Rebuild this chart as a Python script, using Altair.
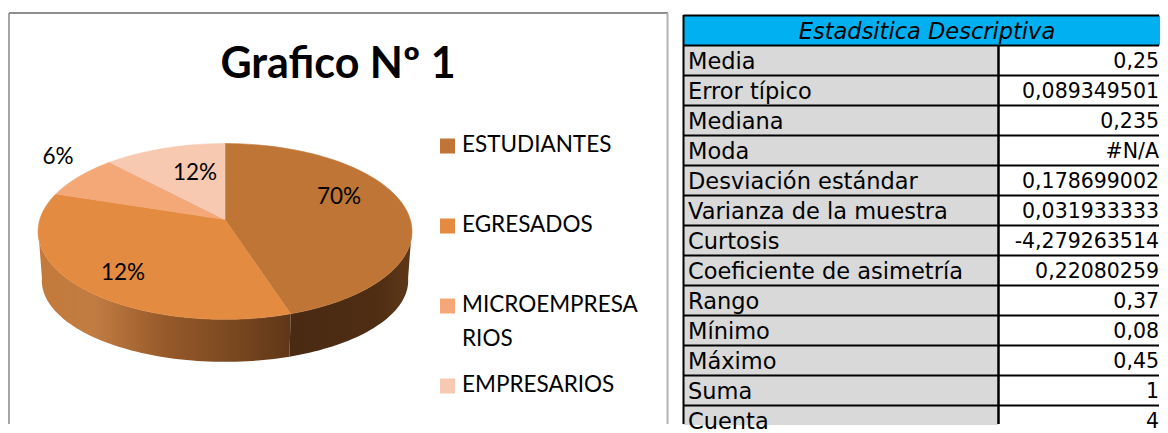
import math
import altair as alt
import pandas as pd

# ---- data ----
categories = ["ESTUDIANTES", "EGRESADOS", "MICROEMPRESARIOS", "EMPRESARIOS"]
shares = [0.45, 0.35, 0.08, 0.12]
colors = ["#bf7535", "#e48b42", "#f5a877", "#f7c9b1"]
slice_labels = ["70%", "12%", "6%", "12%"]

table_title = "Estadsitica Descriptiva"
stat_names = ["Media", "Error típico", "Mediana", "Moda", "Desviación estándar",
              "Varianza de la muestra", "Curtosis", "Coeficiente de asimetría",
              "Rango", "Mínimo", "Máximo", "Suma", "Cuenta"]
stat_values = ["0,25", "0,089349501", "0,235", "#N/A", "0,178699002", "0,031933333",
               "-4,279263514", "0,22080259", "0,37", "0,08", "0,45", "1", "4"]

SANS = "Lato"
TABLE_FONT = "DejaVu Sans"
PANEL_H = 417
RIGHT_W = 488


# ---- projection of the tilted disc ----
def rim(deg):
    t = math.radians(deg)
    u, v = math.sin(t), -math.cos(t)
    d = 1 - 0.136 * v
    return 225 + 185.2 * u / d, (56.4 * v + 219.5) / d


def lower(x, y):
    return 225 + (x - 225) * 0.98, 280.5 + (y - 231.5) * (81.5 / 88)


def sweep(a, b, step=1.5):
    n = max(2, int(abs(b - a) / step))
    return [a + (b - a) * i / n for i in range(n + 1)]


X = alt.X("x:Q", axis=None, scale=alt.Scale(domain=[8, 672]))
Y = alt.Y("y:Q", axis=None, scale=alt.Scale(domain=[8 + PANEL_H, 8]))


def poly(points, fill):
    df = pd.DataFrame(points, columns=["x", "y"]).assign(i=range(len(points)))
    is_flat = isinstance(fill, str)
    return alt.Chart(df).mark_line(fill=fill, stroke=fill if is_flat else "#00000000",
                                   strokeWidth=0.6 if is_flat else 0).encode(
        x=X, y=Y, order="i:Q")


def wall(a, b, fill):
    top = [rim(d) for d in sweep(a, b)]
    bottom = [lower(*p) for p in reversed(top)]
    return poly(top + bottom, fill)


def label(text, px, py, size=22.5, align="left", **kw):
    return alt.Chart(pd.DataFrame({"t": [text]})).mark_text(
        font=SANS, fontSize=size, align=align, baseline="middle", color="#000000", **kw
    ).encode(text="t:N", x=alt.value(px - 8), y=alt.value(py - 8))


# cumulative slice angles
edges = [0]
for s in shares:
    edges.append(edges[-1] + s * 360)

layers = []

grad_orange = alt.LinearGradient(gradient="linear", x1=0, y1=0, x2=1, y2=0, stops=[
    alt.GradientStop(offset=0, color="#c4793a"),
    alt.GradientStop(offset=0.22, color="#c17c42"),
    alt.GradientStop(offset=0.5, color="#975a2a"),
    alt.GradientStop(offset=0.8, color="#77461f"),
    alt.GradientStop(offset=1, color="#5f3717"),
])
grad_brown = alt.LinearGradient(gradient="linear", x1=0, y1=0, x2=1, y2=0, stops=[
    alt.GradientStop(offset=0, color="#4a2a12"),
    alt.GradientStop(offset=0.7, color="#4e2d13"),
    alt.GradientStop(offset=1, color="#5f3819"),
])
layers.append(wall(edges[1], 264, grad_orange))
layers.append(wall(96, edges[1], grad_brown))

for i, color in enumerate(colors):
    pts = [(225, 219.5)] + [rim(d) for d in sweep(edges[i], edges[i + 1])] + [(225, 219.5)]
    layers.append(poly(pts, color))

layers.append(label(slice_labels[0], 339, 197, align="center"))
layers.append(label(slice_labels[1], 123, 273, align="center"))
layers.append(label(slice_labels[2], 58, 157, align="center"))
layers.append(label(slice_labels[3], 195, 173, align="center"))
layers.append(label("Grafico Nº 1", 338, 65, size=43, align="center", fontWeight="bold"))

# legend
legend_y = [146, 226, 306, 386]
for cat, color, py in zip(categories, colors, legend_y):
    layers.append(alt.Chart(pd.DataFrame({"c": [cat]})).mark_square(
        size=225, color=color, opacity=1).encode(x=alt.value(447.5 - 8), y=alt.value(py - 8)))
    if cat == "MICROEMPRESARIOS":
        layers.append(label(cat[:12], 462, py - 1))
        layers.append(label(cat[12:], 462, py + 33))
    else:
        layers.append(label(cat, 462, py - 1))

# frame
FRAME = "#8e8e8e"
one = pd.DataFrame({"a": [0]})
layers.append(alt.Chart(one).mark_rule(color=FRAME, strokeWidth=1.6).encode(
    x=alt.value(1), y=alt.value(5), y2=alt.value(PANEL_H - 1)))
layers.append(alt.Chart(one).mark_rule(color=FRAME, strokeWidth=2).encode(
    x=alt.value(1), x2=alt.value(660), y=alt.value(5)))
layers.append(alt.Chart(one).mark_rule(color="#b4b4b4", strokeWidth=2).encode(
    x=alt.value(659.5), y=alt.value(5), y2=alt.value(PANEL_H - 1)))

left = alt.layer(*layers).properties(width=664, height=PANEL_H)

# ---- table ----
rows = [table_title] + stat_names
ROW_SCALE = alt.Scale(domain=[-0.25, (PANEL_H - 7.5) / 30], range=[0, PANEL_H], clamp=True)
Y_ROW = alt.Y("top:Q", axis=None, scale=ROW_SCALE)
Y2_ROW = alt.Y2("bottom:Q")
cells = pd.DataFrame({"fila": rows, "valor": [""] + stat_values})
cells["top"] = range(len(rows))
cells["bottom"] = cells["top"] + 1
cells["mid"] = cells["top"] + 0.5
Y_MID = alt.Y("mid:Q", axis=None, scale=ROW_SCALE)
head = cells[cells["top"] == 0]
body = cells[cells["top"] > 0]
LEFT_X, DIV_X, RIGHT_X = 683.5 - 672, 998.5 - 672, RIGHT_W

head_rect = alt.Chart(head).mark_rect(fill="#00b0f0").encode(
    y=Y_ROW, y2=Y2_ROW, x=alt.value(LEFT_X), x2=alt.value(RIGHT_X))
name_rect = alt.Chart(body).mark_rect(fill="#d9d9d9").encode(
    y=Y_ROW, y2=Y2_ROW, x=alt.value(LEFT_X), x2=alt.value(DIV_X))
val_rect = alt.Chart(body).mark_rect(fill="#ffffff").encode(
    y=Y_ROW, y2=Y2_ROW, x=alt.value(DIV_X), x2=alt.value(RIGHT_X))
h_lines = alt.Chart(cells).mark_rule(color="#000000", strokeWidth=2).encode(
    y=Y_ROW, x=alt.value(LEFT_X), x2=alt.value(RIGHT_X - 1))
left_line = alt.Chart(one).mark_rule(color="#000000", strokeWidth=2).encode(
    x=alt.value(LEFT_X), y=alt.value(7), y2=alt.value(PANEL_H - 1))
div_line = alt.Chart(one).mark_rule(color="#000000", strokeWidth=2.5).encode(
    x=alt.value(DIV_X), y=alt.value(37), y2=alt.value(PANEL_H - 1))

txt = dict(font=TABLE_FONT, color="#000000", baseline="middle", dy=1)
head_txt = alt.Chart(head).mark_text(align="center", fontStyle="italic", fontSize=22.5, **txt).encode(
    y=Y_MID, x=alt.value(927 - 672), text="fila:N")
name_txt = alt.Chart(body).mark_text(align="left", fontSize=22.5, **txt).encode(
    y=Y_MID, x=alt.value(688 - 672), text="fila:N")
val_txt = alt.Chart(body).mark_text(align="right", fontSize=20.5, **txt).encode(
    y=Y_MID, x=alt.value(RIGHT_W - 1), text="valor:N")

right = alt.layer(head_rect, name_rect, val_rect, h_lines, left_line, div_line,
                  head_txt, name_txt, val_txt).properties(width=RIGHT_W, height=PANEL_H)

chart = alt.hconcat(left, right, spacing=0).resolve_scale(x="independent", y="independent").configure(
    padding=0, background="#ffffff"
).configure_view(stroke=None)

chart.save("out.html", embed_options={"renderer": "svg", "actions": False})
